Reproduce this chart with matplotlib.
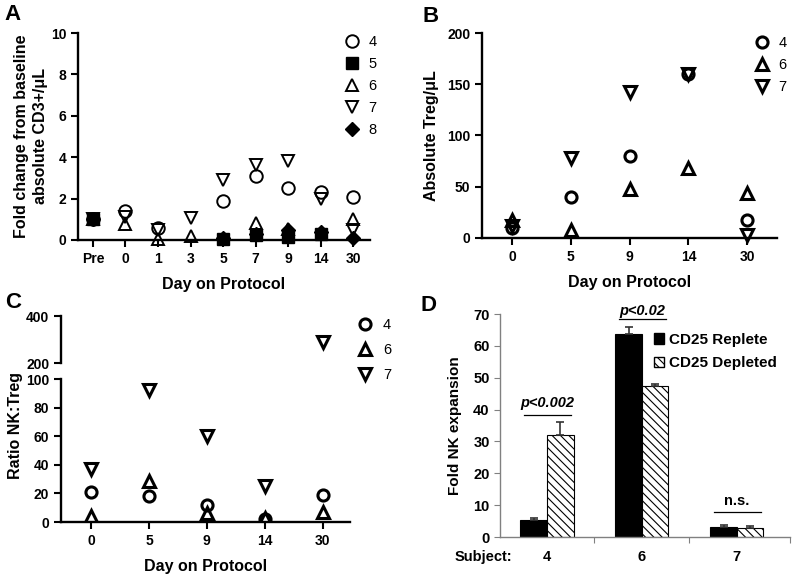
import numpy as np
import matplotlib.pyplot as plt
from matplotlib.patches import Patch

plt.rcParams['font.family'] = ['Liberation Sans', 'DejaVu Sans']
plt.rcParams['font.weight'] = 'bold'
plt.rcParams['hatch.linewidth'] = 0.8

# Panel A: fold change in absolute CD3+/uL
days_a = ['Pre', '0', '1', '3', '5', '7', '9', '14', '30']
a_s4 = [1.0, 1.4, 0.6, np.nan, 1.9, 3.1, 2.5, 2.3, 2.1]
a_s5 = [1.0, np.nan, np.nan, np.nan, 0.05, 0.25, 0.15, 0.3, np.nan]
a_s6 = [1.0, 0.75, 0.05, 0.2, np.nan, 0.8, 0.55, np.nan, 1.0]
a_s7 = [1.0, 1.1, 0.5, 1.05, 2.9, 3.6, 3.8, 2.0, 0.5]
a_s8 = [1.0, np.nan, np.nan, np.nan, 0.1, 0.3, 0.5, 0.4, 0.1]

# Panel B: absolute Treg/uL
days_bc = ['0', '5', '9', '14', '30']
b_s4 = [10, 40, 80, 160, 18]
b_s6 = [18, 8, 48, 68, 44]
b_s7 = [12, 78, 142, 160, 3]

# Panel C: ratio NK:Treg
c_s4 = [21, 18, 12, 2, 19]
c_s6 = [4, 29, 6, 3, 7]
c_s7 = [37, 92, 60, 25, 290]

# Panel D: fold NK expansion
subjects = ['4', '6', '7']
replete = [5.2, 63.7, 3.2]
replete_err = [0.85, 2.4, 0.5]
depleted = [32.0, 47.4, 2.7]
depleted_err = [4.2, 0.5, 0.7]
sig_labels = ['p<0.002', 'p<0.02', 'n.s.']
sig_line_y = [38.3, 68.4, 7.8]
sig_text_y = [42.0, 70.9, 11.3]

fig = plt.figure(figsize=(8, 5.79), dpi=100)


def prism_axes(ax, lw=1.7):
    for s in ['top', 'right']:
        ax.spines[s].set_visible(False)
    for s in ['left', 'bottom']:
        ax.spines[s].set_linewidth(lw)
    ax.tick_params(direction='out', length=5, width=1.5, labelsize=10)
    for lab in ax.get_xticklabels() + ax.get_yticklabels():
        lab.set_fontweight('bold')


# ---- A ----
axA = fig.add_axes([0.0975, 0.5855, 0.365, 0.3575])
xa = np.arange(len(days_a))
openkw = dict(ls='none', mfc='none', mec='black', mew=1.4, ms=9)
fillkw = dict(ls='none', mfc='black', mec='black', mew=1.0, ms=8)
axA.plot(xa, a_s4, 'o', label='4', **openkw)
axA.plot(xa, a_s5, 's', label='5', **fillkw)
axA.plot(xa, a_s6, '^', label='6', **openkw)
axA.plot(xa, a_s7, 'v', label='7', **openkw)
axA.plot(xa, a_s8, 'D', label='8', ls='none', mfc='black', mec='black', ms=7)
axA.set_xlim(-0.46, 8.52)
axA.set_ylim(0, 10)
axA.set_yticks([0, 2, 4, 6, 8, 10])
axA.set_xticks(xa)
axA.set_xticklabels(days_a)
prism_axes(axA)
axA.spines['bottom'].set_zorder(0)
axA.set_xlabel('Day on Protocol', fontsize=11.5, fontweight='bold', labelpad=8)
axA.set_ylabel('Fold change from baseline\nabsolute CD3+/\u03bcL', fontsize=11.5,
               fontweight='bold', labelpad=2, linespacing=1.3)
for c in axA.lines:
    c.set_clip_on(False)
fig.legend(*axA.get_legend_handles_labels(), loc='upper left',
           bbox_to_anchor=(0.431, 0.9396), frameon=False, borderpad=0, borderaxespad=0,
           handlelength=1, handletextpad=0.6, labelspacing=0.55,
           prop={'size': 10.5, 'weight': 'normal'})

# ---- B ----
axB = fig.add_axes([0.6025, 0.589, 0.369, 0.354])
xb = np.arange(len(days_bc))
boldkw = dict(ls='none', mfc='none', mec='black', mew=2.2, ms=8, clip_on=False)
axB.plot(xb, b_s4, 'o', label='4', **boldkw)
axB.plot(xb, b_s6, '^', label='6', **boldkw)
axB.plot(xb, b_s7, 'v', label='7', **boldkw)
axB.set_xlim(-0.51, 4.51)
axB.set_ylim(0, 200)
axB.set_yticks([0, 50, 100, 150, 200])
axB.set_xticks(xb)
axB.set_xticklabels(days_bc)
prism_axes(axB)
axB.set_xlabel('Day on Protocol', fontsize=11.5, fontweight='bold', labelpad=8)
axB.set_ylabel('Absolute Treg/\u03bcL', fontsize=11.5, fontweight='bold', labelpad=6)
fig.legend(*axB.get_legend_handles_labels(), loc='upper left',
           bbox_to_anchor=(0.944, 0.938), frameon=False, borderpad=0, borderaxespad=0,
           handlelength=1, handletextpad=0.6, labelspacing=0.55,
           prop={'size': 10.5, 'weight': 'normal'})

# ---- C (broken axis) ----
axC = fig.add_axes([0.07625, 0.0984, 0.361, 0.247])
axCu = fig.add_axes([0.07625, 0.373, 0.361, 0.0812], sharex=axC)
for ax in (axC, axCu):
    ax.plot(xb, c_s4, 'o', label='4', **boldkw)
    ax.plot(xb, c_s6, '^', label='6', **boldkw)
    ax.plot(xb, c_s7, 'v', label='7', **boldkw)
    prism_axes(ax)
for ln in axC.lines + axCu.lines:
    ln.set_clip_on(True)
axC.set_xlim(-0.52, 4.47)
axC.set_ylim(0, 100)
axC.set_yticks([0, 20, 40, 60, 80, 100])
axC.set_xticks(xb)
axC.set_xticklabels(days_bc)
axCu.set_ylim(200, 400)
axCu.set_yticks([200, 400])
axCu.spines['bottom'].set_visible(False)
axCu.tick_params(axis='x', bottom=False, labelbottom=False)
axC.set_xlabel('Day on Protocol', fontsize=11.5, fontweight='bold', labelpad=8)
fig.text(0.019, 0.265, 'Ratio NK:Treg', rotation=90, ha='center', va='center',
         fontsize=11.5, fontweight='bold')
fig.legend(*axC.get_legend_handles_labels(), loc='upper left',
           bbox_to_anchor=(0.4475, 0.451), frameon=False, borderpad=0, borderaxespad=0,
           handlelength=1, handletextpad=0.7, labelspacing=0.75,
           prop={'size': 10.5, 'weight': 'normal'})

# ---- D ----
axD = fig.add_axes([0.625, 0.0725, 0.3625, 0.385])
xd = np.arange(len(subjects))
w = 0.28
ekw = dict(ecolor='#333333', capsize=3, elinewidth=1.2, capthick=1.2)
axD.bar(xd - w / 2, replete, w, color='black', edgecolor='black', lw=0.8,
        yerr=[np.zeros(3), replete_err], error_kw=ekw, label='CD25 Replete')
axD.bar(xd + w / 2, depleted, w, color='white', edgecolor='black', lw=0.8, hatch='\\\\\\\\',
        yerr=[np.zeros(3), depleted_err], error_kw=ekw, label='CD25 Depleted')
axD.set_xlim(-0.495, 2.56)
axD.set_ylim(0, 70)
axD.set_yticks(np.arange(0, 71, 10))
axD.set_xticks([0.5, 1.5, 2.56])
axD.set_xticklabels([])
axD.set_xticks(xd, minor=True)
axD.set_xticklabels(subjects, minor=True)
for s in ['top', 'right']:
    axD.spines[s].set_visible(False)
for s in ['left', 'bottom']:
    axD.spines[s].set_color('#808080')
    axD.spines[s].set_linewidth(1.0)
axD.tick_params(axis='y', direction='out', length=4, color='#808080', labelsize=10.5)
axD.tick_params(axis='x', which='major', direction='out', length=4, color='#808080')
axD.tick_params(axis='x', which='minor', length=0, pad=9, labelsize=10.5)
for lab in axD.get_yticklabels() + axD.get_xticklabels(minor=True):
    lab.set_fontweight('bold')
axD.text(-0.67, -20 / 223, 'Subject:', transform=axD.get_xaxis_transform(), ha='center',
         va='center', fontsize=10.5, fontweight='bold')
axD.set_ylabel('Fold NK expansion', fontsize=11, fontweight='bold', labelpad=8)
for i in range(len(subjects)):
    axD.plot([xd[i] - 0.245, xd[i] + 0.25], [sig_line_y[i]] * 2, color='black', lw=0.9, clip_on=False)
    style = 'normal' if sig_labels[i] == 'n.s.' else 'italic'
    axD.text(xd[i], sig_text_y[i], sig_labels[i], ha='center', va='center', fontsize=10.5,
             fontweight='bold', fontstyle=style, clip_on=False)
axD.legend(handles=[Patch(facecolor='black', edgecolor='black', label='CD25 Replete'),
                    Patch(facecolor='white', edgecolor='black', hatch='\\\\\\\\', label='CD25 Depleted')],
           loc='upper left', bbox_to_anchor=(0.53, 0.915), frameon=False, borderpad=0,
           borderaxespad=0, handlelength=0.7, handleheight=0.7, handletextpad=0.3,
           labelspacing=0.6, prop={'size': 11, 'weight': 'bold'})

# panel letters
for lbl, x, y in [('A', 0.006, 0.975), ('B', 0.528, 0.972), ('C', 0.006, 0.477), ('D', 0.526, 0.473)]:
    fig.text(x, y, lbl, fontsize=16, fontweight='bold', va='center', ha='left')

fig.savefig('out.png', dpi=100)
